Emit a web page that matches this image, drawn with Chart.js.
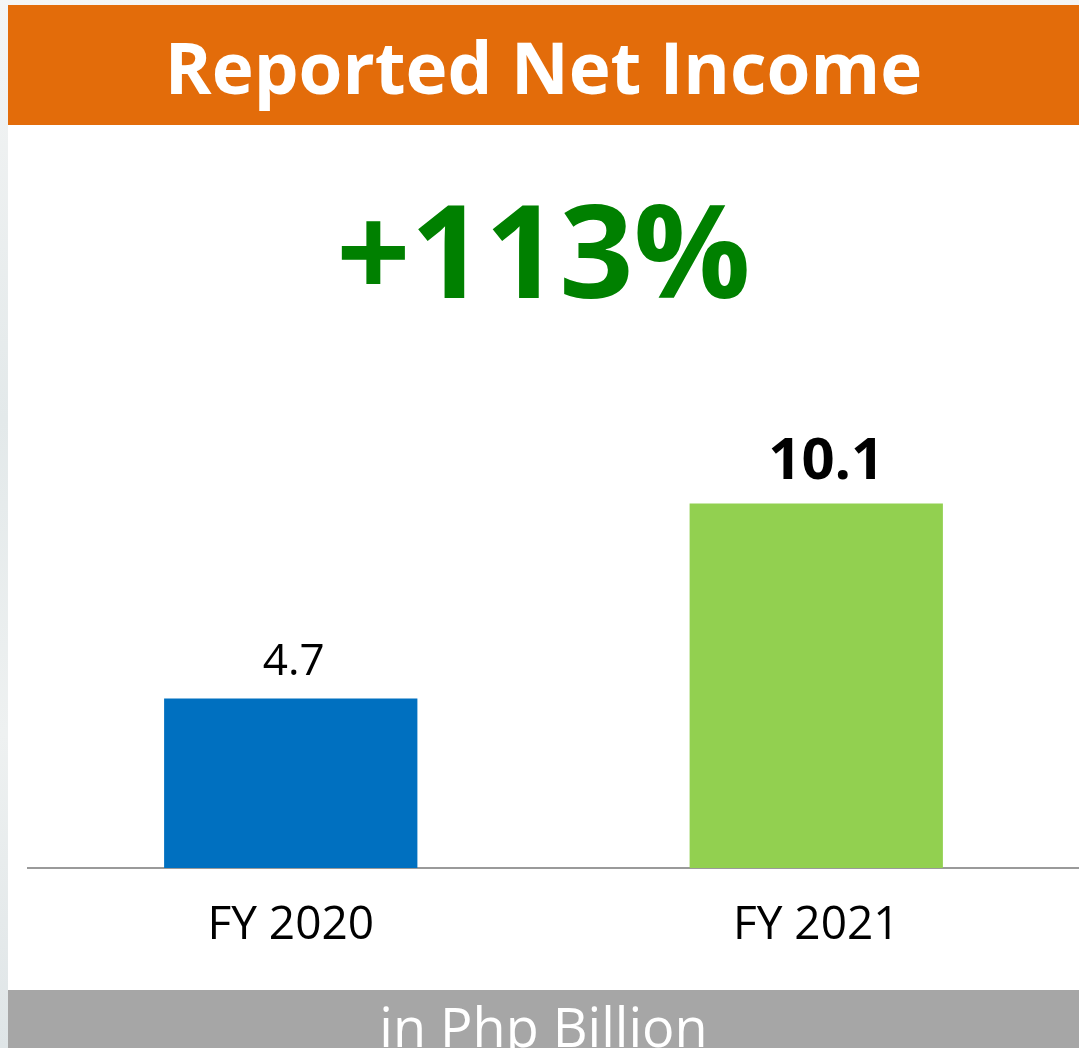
<!DOCTYPE html>
<html>
<head>
<meta charset="utf-8">
<script src="https://cdn.jsdelivr.net/npm/chart.js@4"></script>
<style>
  html, body { margin: 0; padding: 0; }
  body {
    width: 1079px; height: 1048px; overflow: hidden; position: relative;
    background: linear-gradient(180deg, #f4f5f5 0%, #e3e9ea 40%, #eef1f1 70%, #dfe5e7 100%);
    font-family: "Open Sans", "Noto Sans", sans-serif;
  }
  #header {
    position: absolute; left: 8px; top: 5px; width: 1071px; height: 120px;
    background: #e36c0a; color: #fff; font-weight: 700; font-size: 71px;
    text-align: center; line-height: 124px;
  }
  #panel {
    position: absolute; left: 8px; top: 125px; width: 1071px; height: 865px;
    background: #fff;
  }
  #growth {
    position: absolute; left: 0; top: 38px; width: 100%; text-align: center;
    color: #008000; font-weight: 700; font-size: 130px; line-height: 170px;
  }
  #footer {
    position: absolute; left: 8px; top: 990px; width: 1071px; height: 58px;
    background: #a6a6a6; color: #fff; font-size: 54px; text-align: center;
    line-height: 72px; overflow: hidden;
  }
  #chartBox { position: absolute; left: 0; top: 0; width: 1071px; height: 865px; }
</style>
</head>
<body>
<div id="header">Reported Net Income</div>
<div id="panel">
  <div id="growth">+113%</div>
  <div id="chartBox"><canvas id="incomeChart"></canvas></div>
</div>
<div id="footer">in Php Billion</div>

<script>
// --- chart data ---
var years = ['FY 2020', 'FY 2021'];
var netIncome = [4.7, 10.1];
var barColors = ['#0070c0', '#92d050'];
var valueLabels = ['4.7', '10.1'];
var labelBold = [false, true];

// draws the value over each bar
var valueLabelPlugin = {
  id: 'valueLabels',
  afterDatasetsDraw: function(chart) {
    var ctx = chart.ctx;
    var meta = chart.getDatasetMeta(0);
    ctx.save();
    ctx.fillStyle = '#000';
    ctx.textAlign = 'center';
    ctx.textBaseline = 'bottom';
    meta.data.forEach(function(bar, i) {
      ctx.font = labelBold[i] ? 'bold 58px "Open Sans"' : '44px "Open Sans"';
      var dx = labelBold[i] ? 10 : 3;
      ctx.fillText(valueLabels[i], bar.x + dx, bar.y - (labelBold[i] ? 12 : 14));
    });
    ctx.restore();
  }
};

var chart = new Chart(document.getElementById('incomeChart'), {
  type: 'bar',
  data: {
    labels: years,
    datasets: [{
      data: netIncome,
      backgroundColor: barColors,
      barPercentage: 0.482,
      categoryPercentage: 1
    }]
  },
  options: {
    responsive: true,
    maintainAspectRatio: false,
    animation: false,
    layout: { padding: { top: 310, left: 20, right: 0, bottom: 0 } },
    plugins: { legend: { display: false }, tooltip: { enabled: false } },
    scales: {
      y: { display: false, min: 0, max: 12 },
      x: {
        grid: { display: false, drawTicks: false },
        border: { display: true, color: '#9a9a9a', width: 2 },
        ticks: { color: '#000', padding: 30, font: { family: 'Open Sans', size: 46 } },
        afterFit: function(scale) { scale.height = 122; }
      }
    }
  },
  plugins: [valueLabelPlugin]
});
</script>
</body>
</html>
